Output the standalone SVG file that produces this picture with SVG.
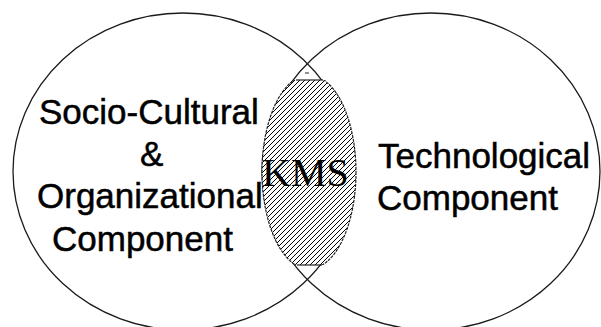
<svg xmlns="http://www.w3.org/2000/svg" width="601" height="327" viewBox="0 0 601 327">
<style>
.ring{fill:none;stroke:#1a1a1a;stroke-width:1.3}
.lbl{font-family:"Liberation Sans",Arial,sans-serif;font-size:35px;fill:#000;stroke:#000;stroke-width:0.5}
.kms{font-family:"Liberation Serif","Times New Roman",serif;font-size:40px;fill:#000}
.lens{fill:url(#hatch);stroke:#222;stroke-width:1.2;stroke-dasharray:3 1}
</style>
<defs>
<pattern id="hatch" patternUnits="userSpaceOnUse" width="5" height="5">
<rect width="5" height="5" fill="#fff"/>
<path d="M0,5 L5,0 M-1,1 L1,-1 M4,6 L6,4" stroke="#000" stroke-width="1"/>
</pattern>
<clipPath id="lensclip"><rect x="250" y="80" width="120" height="185"/></clipPath>
</defs>
<rect width="601" height="327" fill="#fff"/>
<g id="socio-cultural">
<ellipse class="ring" cx="183" cy="171.5" rx="170" ry="158.5"/>
</g>
<g id="technological">
<ellipse class="ring" cx="431" cy="171.5" rx="169" ry="158.5"/>
</g>
<g id="kms">
<ellipse class="lens" cx="309" cy="172" rx="47" ry="97" clip-path="url(#lensclip)"/>
<line x1="296" y1="80" x2="323" y2="80" stroke="#222" stroke-width="1.2"/>
<line x1="297" y1="265" x2="322" y2="265" stroke="#222" stroke-width="1.2"/>
<line x1="305" y1="73" x2="309" y2="73" stroke="#222" stroke-width="1"/>
<text class="kms" x="262" y="186">KMS</text>
</g>
<g id="labels-left">
<text class="lbl" x="39" y="124">Socio-Cultural</text>
<text class="lbl" x="140" y="166">&amp;</text>
<text class="lbl" x="37" y="208">Organizational</text>
<text class="lbl" x="52" y="251">Component</text>
</g>
<g id="labels-right">
<text class="lbl" x="378" y="168">Technological</text>
<text class="lbl" x="377" y="210">Component</text>
</g>
</svg>
